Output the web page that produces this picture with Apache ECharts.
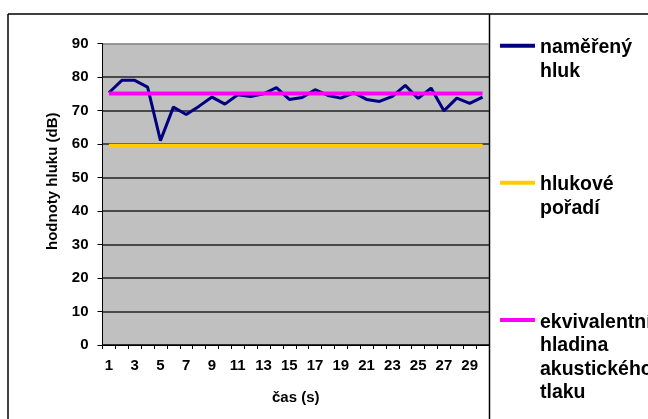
<!DOCTYPE html>
<html>
<head>
<meta charset="utf-8">
<script src="https://cdn.jsdelivr.net/npm/echarts@6/dist/echarts.min.js"></script>
<style>
  html, body { margin: 0; padding: 0; background: #ffffff; }
  #chart { width: 648px; height: 419px; }
</style>
</head>
<body>
<div id="chart"></div>
<script>
// time axis (seconds)
const seconds = ['1','2','3','4','5','6','7','8','9','10','11','12','13','14','15',
                 '16','17','18','19','20','21','22','23','24','25','26','27','28','29','30'];

// measured noise level, dB
const measuredNoise = [75.3, 79.0, 79.0, 77.0, 61.0, 71.0, 68.8, 71.3, 74.0, 71.9,
                       74.7, 74.2, 75.0, 76.8, 73.3, 73.9, 76.2, 74.5, 73.7, 75.3,
                       73.3, 72.7, 74.2, 77.5, 73.6, 76.7, 69.9, 73.7, 72.1, 74.0];

// noise rating level, dB
const noiseRating = [59.5, 59.5, 59.5, 59.5, 59.5, 59.5, 59.5, 59.5, 59.5, 59.5,
                     59.5, 59.5, 59.5, 59.5, 59.5, 59.5, 59.5, 59.5, 59.5, 59.5,
                     59.5, 59.5, 59.5, 59.5, 59.5, 59.5, 59.5, 59.5, 59.5, 59.5];

// equivalent sound pressure level, dB
const equivalentLevel = [75.1, 75.1, 75.1, 75.1, 75.1, 75.1, 75.1, 75.1, 75.1, 75.1,
                         75.1, 75.1, 75.1, 75.1, 75.1, 75.1, 75.1, 75.1, 75.1, 75.1,
                         75.1, 75.1, 75.1, 75.1, 75.1, 75.1, 75.1, 75.1, 75.1, 75.1];

const seriesNames = ['naměřený hluk', 'hlukové pořadí', 'ekvivalentní hladina akustického tlaku'];
const legendLines = [['naměřený', 'hluk'], ['hlukové', 'pořadí'],
                     ['ekvivalentní', 'hladina', 'akustického', 'tlaku']];
const seriesColors = ['#000080', '#FFCC00', '#FF00FF'];

const FONT = '"Liberation Sans", Arial, sans-serif';
const AXIS_FONT_SIZE = 15;

const chart = echarts.init(document.getElementById('chart'), null, { renderer: 'canvas' });

// legend panel on the right: a coloured stroke plus wrapped bold label per series
const legendTops = [45.7, 182.7, 320];
const legendGraphics = [];
legendLines.forEach(function (lines, i) {
  legendGraphics.push({
    type: 'line',
    shape: { x1: 500, y1: legendTops[i], x2: 535, y2: legendTops[i] },
    style: { stroke: seriesColors[i], lineWidth: 4 }
  });
  legendGraphics.push({
    type: 'text',
    x: 540,
    y: legendTops[i] - 9.5,
    style: {
      text: lines.join('\n'),
      font: 'bold 19.5px ' + FONT,
      lineHeight: 23.5,
      fill: '#000000',
      verticalAlign: 'top',
      align: 'left'
    }
  });
});

chart.setOption({
  backgroundColor: '#ffffff',
  animation: false,
  grid: { left: 102.5, right: 159, top: 43.5, bottom: 74, containLabel: false,
          show: true, backgroundColor: '#C0C0C0', borderWidth: 0 },
  xAxis: {
    type: 'category',
    data: seconds,
    boundaryGap: true,
    name: 'čas (s)',
    nameLocation: 'middle',
    nameGap: 45,
    nameTextStyle: { fontFamily: FONT, fontWeight: 'bold', fontSize: AXIS_FONT_SIZE, color: '#000' },
    axisLine: { lineStyle: { color: '#000', width: 1 } },
    axisTick: { show: true, interval: 0, length: 4, lineStyle: { color: '#000' } },
    axisLabel: { interval: 1, margin: 13, fontFamily: FONT, fontWeight: 'bold', fontSize: AXIS_FONT_SIZE, color: '#000' },
    splitLine: { show: false }
  },
  yAxis: {
    type: 'value',
    min: 0, max: 90, interval: 10,
    name: 'hodnoty hluku (dB)',
    nameLocation: 'middle',
    nameGap: 42,
    nameTextStyle: { fontFamily: FONT, fontWeight: 'bold', fontSize: AXIS_FONT_SIZE, color: '#000', padding: [0, 0, 0, 26] },
    axisLine: { show: true, lineStyle: { color: '#000', width: 1 } },
    axisTick: { show: true, length: 5, lineStyle: { color: '#000' } },
    axisLabel: { margin: 14, fontFamily: FONT, fontWeight: 'bold', fontSize: AXIS_FONT_SIZE, color: '#000' },
    splitLine: { show: true, lineStyle: { color: ['#000', '#222', '#222', '#222', '#222', '#222', '#222', '#222', '#222', '#808080'], width: 1.5 } }
  },
  series: [
    { name: seriesNames[0], type: 'line', data: measuredNoise, symbol: 'none',
      lineStyle: { color: seriesColors[0], width: 3 }, itemStyle: { color: seriesColors[0] } },
    { name: seriesNames[1], type: 'line', data: noiseRating, symbol: 'none',
      lineStyle: { color: seriesColors[1], width: 4 }, itemStyle: { color: seriesColors[1] } },
    { name: seriesNames[2], type: 'line', data: equivalentLevel, symbol: 'none',
      lineStyle: { color: seriesColors[2], width: 4 }, itemStyle: { color: seriesColors[2] } }
  ],
  graphic: [
    // chart frame: top and left border, and the divider before the legend panel
    { type: 'line', shape: { x1: 8, y1: 14, x2: 648, y2: 14 }, style: { stroke: '#000', lineWidth: 1.5 } },
    { type: 'line', shape: { x1: 8, y1: 14, x2: 8, y2: 419 }, style: { stroke: '#000', lineWidth: 1.5 } },
    { type: 'line', shape: { x1: 489.5, y1: 14, x2: 489.5, y2: 419 }, style: { stroke: '#000', lineWidth: 1.5 } }
  ].concat(legendGraphics)
});
</script>
</body>
</html>
